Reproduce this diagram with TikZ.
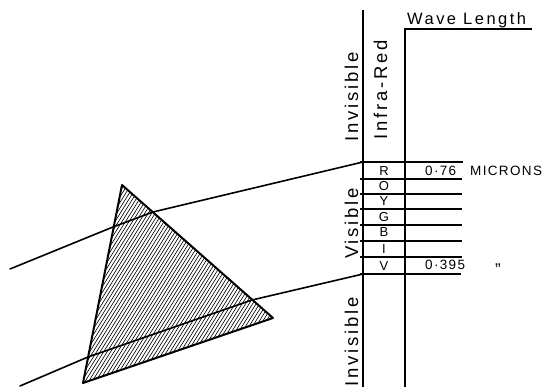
\documentclass[tikz,border=0pt]{standalone}
\usepackage{fontspec}
\setmainfont{Liberation Sans}
\newfontfamily\lab[LetterSpace=15]{Liberation Sans}
\newfontfamily\labs[LetterSpace=10]{Liberation Sans}
\begin{document}
\begin{tikzpicture}[x=1pt,y=-1pt,
  ink/.style={line width=1.6pt, line cap=round, line join=round},
  rule/.style={line width=1.3pt},
  big/.style={inner sep=0pt, font=\fontsize{18.5}{18}\selectfont\lab},
  rowlet/.style={inner sep=0pt, font=\fontsize{13}{13}\selectfont\labs},
  num/.style={inner sep=0pt, anchor=base west, font=\fontsize{13.5}{13}\selectfont\labs}]
\useasboundingbox (0,0) rectangle (542,387);
% prism
\coordinate (A) at (122,185);
\coordinate (B) at (273,318);
\coordinate (C) at (83,383);
\begin{scope}
  \clip (A) -- (B) -- (C) -- cycle;
  \foreach \a in {-170,-166.5,...,290} {
    \draw[line width=0.6pt] (\a,392) -- ++(160,-256);
  }
\end{scope}
\draw[line width=2pt, line join=round] (A) -- (B) -- (C) -- cycle;
% scale lines
\coordinate (v1t) at (363,10);
\coordinate (v1b) at (363,387);
\coordinate (v2t) at (405,29);
\coordinate (v2b) at (405,387);
\coordinate (wlend) at (532,29);
\draw[rule] (v1t) -- (v1b);
\draw[rule] (v2b) -- (v2t) -- (wlend);
% rays
\coordinate (u0) at (10,269);
\coordinate (u1) at (113,227);
\coordinate (u2) at (153,212);
\coordinate (u3) at (363,162);
\coordinate (l0) at (20,386);
\coordinate (l1) at (88,357);
\coordinate (l2) at (252,300);
\coordinate (l3) at (363,274);
\draw[ink] (u0) -- (u1) -- (u2) -- (u3);
\draw[ink] (l0) -- (l1) -- (l2) -- (l3);
% row lines
\foreach \y/\r in {162/463,179/462,194/462,209/462,225/462,241/462,257/462,274/461} {
  \draw[rule] (360,\y) -- (\r,\y);
}
% row letters
\node[rowlet] (R) at (384,171) {R};
\node[rowlet] (O) at (384,186.5) {O};
\node[rowlet] (Y) at (384,201.5) {Y};
\node[rowlet] (G) at (384,217.5) {G};
\node[rowlet] (Bl) at (384,232.5) {B};
\node[rowlet] (I) at (384,249) {I};
\node[rowlet] (V) at (384,266) {V};
% numbers
\node[num] (n76) at (425,176) {0·76};
\node[num] (mic) at (470,176) {MICRONS};
\node[num] (n395) at (425,270) {0·395};
\node[inner sep=0pt, font=\fontsize{17}{17}\selectfont] (dit) at (498,270) {”};
% labels
\node[inner sep=0pt, anchor=base west, font=\fontsize{16.5}{16}\selectfont\lab] (wl) at (407,25) {Wave Length};
\node[big, rotate=90, anchor=base] (ir) at (387,90) {Infra-Red};
\node[big, rotate=90, anchor=base] (inv1) at (358,97) {Invisible};
\node[big, rotate=90, anchor=base] (vis) at (358,223.5) {Visible};
\node[big, rotate=90, anchor=base] (inv2) at (358,342) {Invisible};
\end{tikzpicture}
\end{document}
